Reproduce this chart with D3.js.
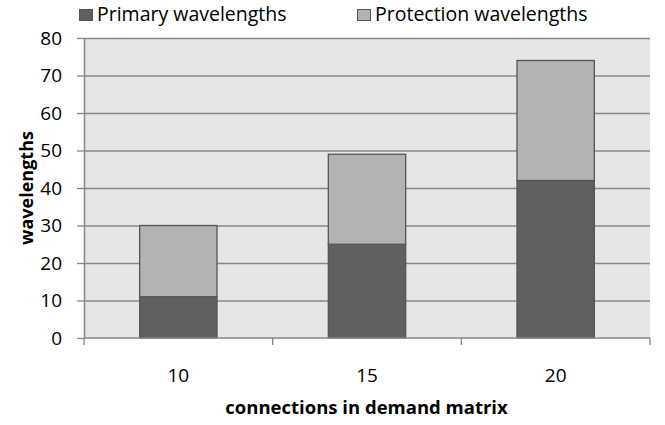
<!DOCTYPE html>
<html>
<head>
<meta charset="utf-8">
<script src="https://cdn.jsdelivr.net/npm/d3@7"></script>
<style>
  body { margin: 0; background: #fff; }
  svg text { font-family: "Open Sans", "Noto Sans", sans-serif; fill: #000; }
</style>
</head>
<body>
<svg id="chart" width="665" height="425"></svg>
<script>
const categories = ['10', '15', '20'];
const primary = [11, 25, 42];
const protection = [19, 24, 32];
const seriesNames = ['Primary wavelengths', 'Protection wavelengths'];
const seriesColors = ['#606060', '#b3b3b3'];
const yTicks = [0, 10, 20, 30, 40, 50, 60, 70, 80];

const W = 665, H = 425;
const margin = { top: 38, right: 15, bottom: 87, left: 84 };
const innerW = W - margin.left - margin.right;
const innerH = H - margin.top - margin.bottom;

const svg = d3.select('#chart');
const g = svg.append('g').attr('transform', `translate(${margin.left},${margin.top})`);

const x = d3.scaleBand().domain(categories).range([0, innerW]).paddingInner(0.59).paddingOuter(0.295);
const band = d3.scaleBand().domain(categories).range([0, innerW]);
const y = d3.scaleLinear().domain([0, 80]).range([innerH, 0]);

// plot background
g.append('rect')
  .attr('width', innerW).attr('height', innerH)
  .attr('fill', '#e6e6e6');

// gridlines
g.selectAll('.grid').data(yTicks.slice(1)).enter().append('line')
  .attr('x1', 0).attr('x2', innerW)
  .attr('y1', d => y(d) + 0.5).attr('y2', d => y(d) + 0.5)
  .attr('stroke', '#878787').attr('stroke-width', 1.3);

// stacked bars
const rows = categories.map((c, i) => ({ cat: c, primary: primary[i], protection: protection[i] }));
const stacked = d3.stack().keys(['primary', 'protection'])(rows);

g.selectAll('.series').data(stacked).enter().append('g')
  .attr('fill', (d, i) => seriesColors[i])
  .selectAll('rect').data(d => d).enter().append('rect')
  .attr('x', d => x(d.data.cat))
  .attr('y', d => y(d[1]))
  .attr('width', x.bandwidth())
  .attr('height', d => y(d[0]) - y(d[1]))
  .attr('stroke', '#555').attr('stroke-width', 1.3);

// y axis
const yAxis = g.append('g')
  .call(d3.axisLeft(y).tickValues(yTicks).tickSize(7).tickPadding(15).tickSizeOuter(0));
yAxis.select('.domain').attr('stroke', '#878787').attr('stroke-width', 1.5);
yAxis.selectAll('.tick line').attr('stroke', '#878787').attr('stroke-width', 1.3);
yAxis.selectAll('.tick text').attr('font-size', 19).attr('fill', '#000')
  .style('font-family', '"Open Sans", sans-serif');

// x axis: ticks at band boundaries
const xAxis = g.append('g').attr('transform', `translate(0,${innerH})`);
xAxis.append('line').attr('x1', 0).attr('x2', innerW)
  .attr('stroke', '#878787').attr('stroke-width', 1.5);
const bounds = categories.map(c => band(c)).concat([innerW]);
xAxis.selectAll('.xt').data(bounds).enter().append('line')
  .attr('x1', d => d).attr('x2', d => d)
  .attr('y1', 0).attr('y2', 7)
  .attr('stroke', '#878787').attr('stroke-width', 1.3);
xAxis.selectAll('.xl').data(categories).enter().append('text')
  .attr('x', d => band(d) + band.bandwidth() / 2)
  .attr('y', 44)
  .attr('text-anchor', 'middle')
  .attr('font-size', 19)
  .text(d => d);

// axis titles
svg.append('text')
  .attr('x', margin.left + innerW / 2 - 0.5)
  .attr('y', 414)
  .attr('text-anchor', 'middle')
  .attr('font-size', 18.5)
  .attr('font-weight', 'bold')
  .text('connections in demand matrix');

svg.append('text')
  .attr('transform', 'translate(33,188) rotate(-90)')
  .attr('text-anchor', 'middle')
  .attr('font-size', 18)
  .attr('font-weight', 'bold')
  .text('wavelengths');

// legend
const legendX = [79, 357];
const legend = svg.selectAll('.legend').data(seriesNames).enter().append('g')
  .attr('transform', (d, i) => `translate(${legendX[i]},9)`);
legend.append('rect')
  .attr('x', 0.5).attr('y', 0.5)
  .attr('width', 13).attr('height', 11)
  .attr('fill', (d, i) => seriesColors[i])
  .attr('stroke', '#555').attr('stroke-width', 1);
legend.append('text')
  .attr('x', 18).attr('y', 12)
  .attr('font-size', 19.5)
  .text(d => d);
</script>
</body>
</html>
